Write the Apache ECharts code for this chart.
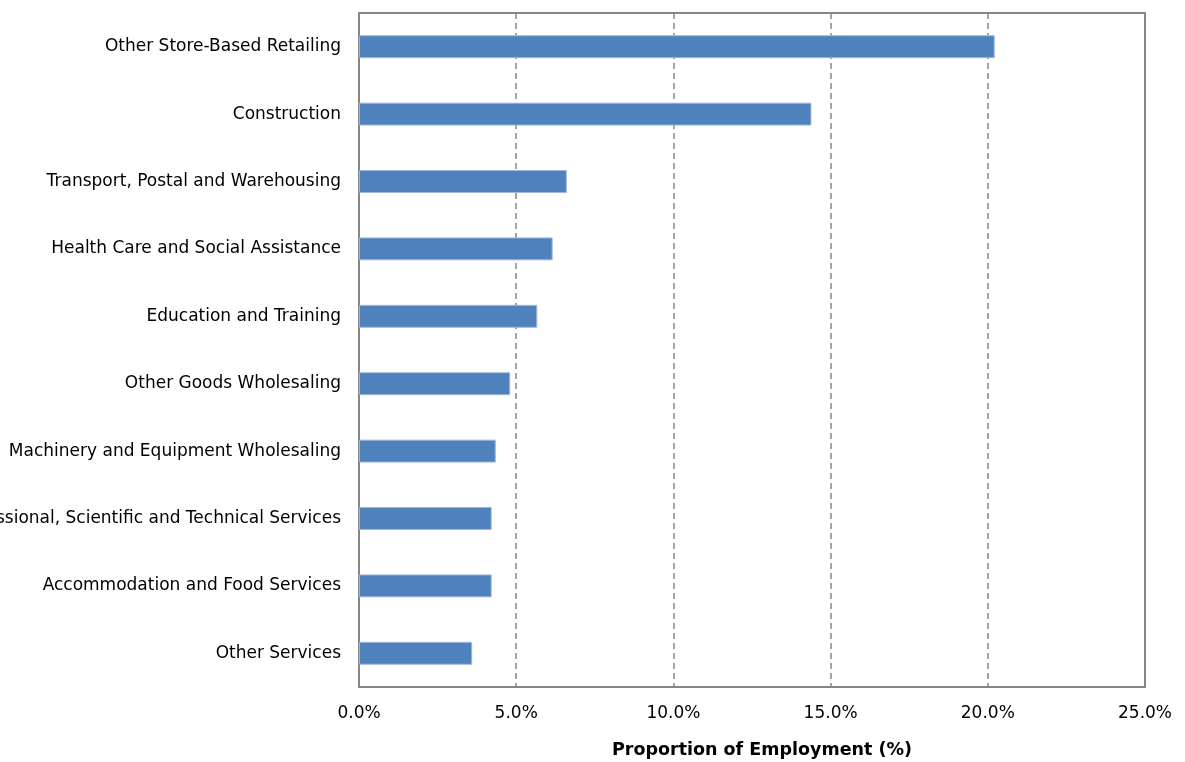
<!DOCTYPE html>
<html>
<head>
<meta charset="utf-8">
<script src="https://cdn.jsdelivr.net/npm/echarts@6/dist/echarts.min.js"></script>
<style>html,body{margin:0;padding:0;background:#fff;}#c{width:1185px;height:762px;}</style>
</head>
<body>
<div id="c"></div>
<script>
const categories = [
  "Other Store-Based Retailing",
  "Construction",
  "Transport, Postal and Warehousing",
  "Health Care and Social Assistance",
  "Education and Training",
  "Other Goods Wholesaling",
  "Machinery and Equipment Wholesaling",
  "Professional, Scientific and Technical Services",
  "Accommodation and Food Services",
  "Other Services"
];
const values = [20.22, 14.39, 6.61, 6.16, 5.67, 4.81, 4.35, 4.22, 4.22, 3.60];
const xTicks = [0, 5, 10, 15, 20, 25];
const axisTitle = "Proportion of Employment (%)";

const font = "DejaVu Sans";
const chart = echarts.init(document.getElementById('c'), null, {renderer: 'canvas'});
chart.setOption({
  animation: false,
  backgroundColor: '#ffffff',
  grid: {left: 359, right: 40, top: 13, bottom: 75, containLabel: false,
         outerBoundsMode: 'none',
         show: true, borderColor: '#868686', borderWidth: 2},
  xAxis: {
    type: 'value', min: xTicks[0], max: xTicks[xTicks.length - 1], interval: 5,
    axisLine: {show: true, lineStyle: {color: '#868686', width: 2}},
    axisTick: {show: false},
    splitLine: {show: true, lineStyle: {color: '#868686', type: [6, 4], width: 1.5}},
    axisLabel: {formatter: v => v.toFixed(1) + '%', color: '#000', fontFamily: font, fontSize: 17, margin: 18},
    name: axisTitle, nameLocation: 'middle', nameGap: 54,
    nameTextStyle: {fontFamily: font, fontSize: 17.5, fontWeight: 'bold', color: '#000', padding: [0, 0, 0, 20]}
  },
  yAxis: {
    type: 'category', data: categories, inverse: true,
    axisLine: {show: true, lineStyle: {color: '#868686', width: 2}},
    axisTick: {show: false},
    axisLabel: {color: '#000', fontFamily: font, fontSize: 17, margin: 18, interval: 0}
  },
  series: [{
    type: 'bar', data: values, barWidth: '34%',
    itemStyle: {color: '#4F81BD', borderColor: '#9DB7DA', borderWidth: 1}
  }]
});
</script>
</body>
</html>
